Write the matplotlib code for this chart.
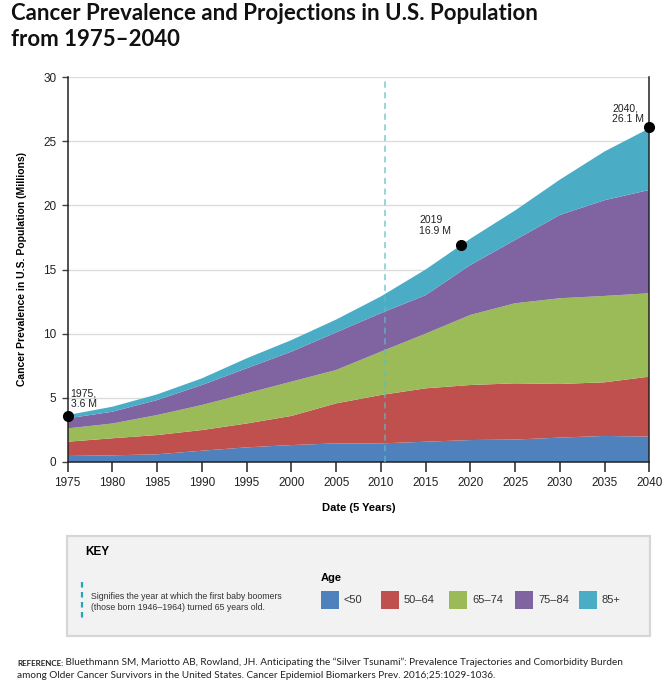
import matplotlib
matplotlib.use("Agg")
import matplotlib.pyplot as plt
from matplotlib.patches import Rectangle

# stacked cancer prevalence by age group, millions
years = [1975, 1980, 1985, 1990, 1995, 2000, 2005, 2010, 2015, 2020, 2025, 2030, 2035, 2040]
under_50 = [0.47, 0.52, 0.60, 0.88, 1.14, 1.32, 1.45, 1.45, 1.58, 1.71, 1.75, 1.90, 2.03, 1.98]
age_50_64 = [1.11, 1.33, 1.50, 1.61, 1.86, 2.27, 3.12, 3.77, 4.16, 4.29, 4.38, 4.18, 4.18, 4.67]
age_65_74 = [1.04, 1.15, 1.56, 1.95, 2.35, 2.67, 2.60, 3.38, 4.26, 5.46, 6.24, 6.68, 6.73, 6.50]
age_75_84 = [0.78, 0.92, 1.17, 1.56, 1.95, 2.34, 2.93, 3.00, 3.00, 3.89, 4.93, 6.49, 7.46, 8.05]
age_85_up = [0.26, 0.39, 0.44, 0.52, 0.78, 0.90, 1.00, 1.30, 2.00, 2.05, 2.30, 2.75, 3.80, 4.80]

age_labels = ["<50", "50\u201364", "65\u201374", "75\u201384", "85+"]
colors = ["#4F81BD", "#C0504D", "#9BBB59", "#8064A2", "#4BACC6"]

# labelled totals
callout_years = [1975, 2019, 2040]
callout_totals = [3.6, 16.9, 26.1]
callout_text = ["1975,\n3.6 M", "2019\n16.9 M", "2040,\n26.1 M"]

boomer_year = 2010.5

SANS = "Liberation Sans"
W, H = 668, 680

fig = plt.figure(figsize=(W / 100, H / 100), dpi=100)

# main chart, placed in pixel terms
left, right, top, bottom = 67.7, 649.3, 77, 462
ax = fig.add_axes([left / W, 1 - bottom / H, (right - left) / W, (bottom - top) / H])
ax.stackplot(years, under_50, age_50_64, age_65_74, age_75_84, age_85_up,
             colors=colors, linewidth=0, zorder=2)
ax.axvline(boomer_year, color="#5BBDC5", lw=1.1, ls=(0, (4, 3)), alpha=0.8, zorder=3)
ax.plot(callout_years, callout_totals, "o", color="black", ms=7, clip_on=False, zorder=5)
offsets = [(3, 7), (-42, 9), (-37, 3)]
for xv, yv, txt, off in zip(callout_years, callout_totals, callout_text, offsets):
    ax.annotate(txt, (xv, yv), xytext=off, textcoords="offset pixels",
                fontsize=7.5, family=SANS, color="#222222", linespacing=1.1,
                ha="left", va="bottom", zorder=6)

ax.set_xlim(1975, 2040)
ax.set_ylim(0, 30)
ax.set_xticks(range(1975, 2041, 5))
ax.set_yticks(range(0, 31, 5))
ax.grid(axis="y", color="#dcdcdc", lw=1, zorder=0)
ax.set_axisbelow(True)
ax.spines["top"].set_visible(False)
for side in ("left", "bottom", "right"):
    ax.spines[side].set_color("#222222")
    ax.spines[side].set_linewidth(1.1)
ax.tick_params(axis="x", length=7, width=1.3, color="#444444", pad=4, labelsize=8.5)
ax.tick_params(axis="y", length=4, width=1, color="#444444", pad=4, labelsize=8.5)
for lab in ax.get_xticklabels() + ax.get_yticklabels():
    lab.set_family(SANS)
    lab.set_color("#222222")
ax.set_xlabel("Date (5 Years)", fontsize=8, fontweight="bold", family=SANS, labelpad=10)
ax.set_ylabel("Cancer Prevalence in U.S. Population (Millions)", fontsize=7.5,
              fontweight="bold", family=SANS, labelpad=12)

# overlay in pixel coordinates for title, key and reference
ov = fig.add_axes([0, 0, 1, 1], zorder=-1)
ov.set_xlim(0, W)
ov.set_ylim(H, 0)
ov.axis("off")

ov.text(11, 20, "Cancer Prevalence and Projections in U.S. Population",
        fontsize=16, fontweight="bold", family="Lato", va="baseline", color="#111111")
ov.text(11, 46, "from 1975\u20132040",
        fontsize=16, fontweight="bold", family="Lato", va="baseline", color="#111111")

ov.add_patch(Rectangle((67, 536), 583, 100, facecolor="#f2f2f2", edgecolor="#d6d6d6", lw=1.6))
ov.text(85, 552, "KEY", fontsize=8.5, fontweight="bold", family=SANS, va="center")
ov.plot([82, 82], [582, 622], color="#2AA5B8", lw=1.6, ls=(0, (2.5, 2)))
ov.text(91, 602, "Signifies the year at which the first baby boomers\n"
        "(those born 1946\u20131964) turned 65 years old.",
        fontsize=6.3, family=SANS, va="center", color="#333333", linespacing=1.3)
ov.text(321, 578, "Age", fontsize=8, fontweight="bold", family=SANS, va="center")
swatch_x = [321, 381, 449, 515, 579]
for sx, col, lab in zip(swatch_x, colors, age_labels):
    ov.add_patch(Rectangle((sx, 591), 18, 18, facecolor=col, edgecolor="none"))
    ov.text(sx + 23, 600, lab, fontsize=8, family=SANS, va="center", color="#333333")

ref_tag = ov.text(17, 666, "REFERENCE:", fontsize=5.8, fontweight="bold", family="Lato",
                  va="baseline", color="#222222")
ov.annotate(" Bluethmann SM, Mariotto AB, Rowland, JH. Anticipating the \u201cSilver Tsunami\u201d: "
            "Prevalence Trajectories and Comorbidity Burden",
            xy=(1, 0), xycoords=ref_tag, va="bottom", fontsize=7.2, family="Lato",
            color="#222222")
ov.text(17, 678, "among Older Cancer Survivors in the United States. Cancer Epidemiol Biomarkers "
        "Prev. 2016;25:1029-1036.", fontsize=7.2, family="Lato", va="baseline", color="#222222")

fig.savefig("out.png", dpi=100)
